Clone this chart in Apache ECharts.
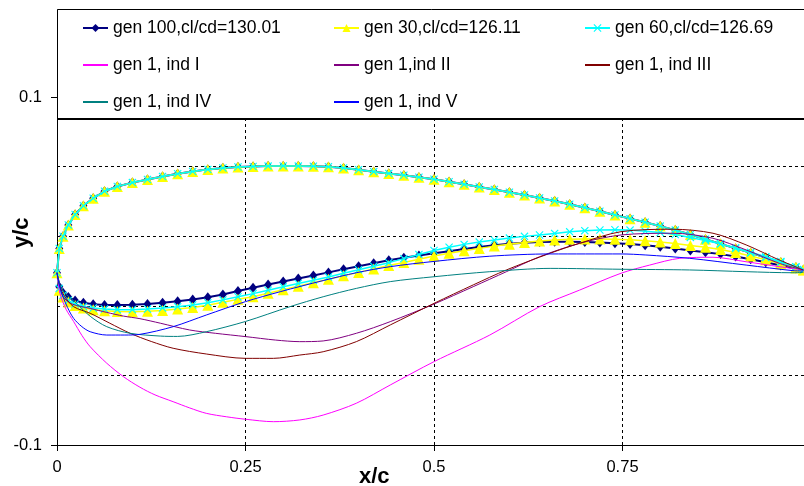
<!DOCTYPE html>
<html>
<head>
<meta charset="utf-8">
<script src="https://cdn.jsdelivr.net/npm/echarts@6/dist/echarts.min.js"></script>
<style>
  html, body { margin: 0; padding: 0; background: #fff; }
  #chart { width: 804px; height: 486px; }
</style>
</head>
<body>
<div id="chart"></div>
<script>
// x stations of the three best profiles (upper and lower surface)
var stations = [0, 0.003, 0.008, 0.015, 0.024, 0.035, 0.048, 0.063, 0.08, 0.1,
  0.12, 0.14, 0.16, 0.18, 0.2, 0.22, 0.24, 0.26, 0.28, 0.3, 0.32, 0.34, 0.36, 0.38, 0.4,
  0.42, 0.44, 0.46, 0.48, 0.5, 0.52, 0.54, 0.56, 0.58, 0.6, 0.62, 0.64, 0.66, 0.68, 0.7,
  0.72, 0.74, 0.76, 0.78, 0.8, 0.82, 0.84, 0.86, 0.88, 0.9, 0.92, 0.94, 0.96, 0.98, 0.99]

// upper surface (the three best designs overlap here)
var upperY = [-0.001, 0.013, 0.020, 0.0265, 0.0325, 0.0375, 0.0418, 0.0458, 0.0486, 0.0508,
  0.0526, 0.0543, 0.0559, 0.0572, 0.0584, 0.0592, 0.0598, 0.0601, 0.0603, 0.0604, 0.0603, 0.0602, 0.0599, 0.0592, 0.0582,
  0.0571, 0.0561, 0.055, 0.0539, 0.0527, 0.0513, 0.0498, 0.0483, 0.0468, 0.0453, 0.0437, 0.042, 0.0402, 0.0384, 0.0364,
  0.0343, 0.0322, 0.0301, 0.028, 0.0258, 0.0235, 0.021, 0.0183, 0.0156, 0.013, 0.0104, 0.0078, 0.0051, 0.0022, 0.0007]

var lowerGen100 = [-0.001, -0.009, -0.0125, -0.015, -0.017, -0.0183, -0.0191, -0.0195, -0.0196, -0.0194,
  -0.0189, -0.0182, -0.0174, -0.0164, -0.0151, -0.0135, -0.0115, -0.0096, -0.0078, -0.006, -0.0043, -0.0026, -0.0008, 0.001, 0.0027,
  0.0045, 0.0062, 0.0076, 0.0089, 0.0102, 0.0114, 0.0126, 0.0138, 0.0148, 0.0156, 0.0162, 0.0166, 0.0168, 0.0168, 0.0167,
  0.0164, 0.016, 0.0155, 0.0148, 0.0139, 0.0129, 0.0118, 0.0108, 0.0097, 0.0083, 0.0068, 0.005, 0.0032, 0.0014, 0.0006]

var lowerGen30 = [-0.001, -0.011, -0.015, -0.0178, -0.0198, -0.0212, -0.0222, -0.0229, -0.0233, -0.0234,
  -0.0232, -0.0227, -0.0219, -0.021, -0.0197, -0.018, -0.0163, -0.0148, -0.0128, -0.0108, -0.0088, -0.0067, -0.0047, -0.0028, -0.0008,
  0.0012, 0.0032, 0.0049, 0.0068, 0.0086, 0.0102, 0.0116, 0.013, 0.0143, 0.0154, 0.0164, 0.0172, 0.0178, 0.0182, 0.0184,
  0.0184, 0.0183, 0.0179, 0.0174, 0.0167, 0.0158, 0.0147, 0.0136, 0.0123, 0.0106, 0.0086, 0.0065, 0.0042, 0.0017, 0.0006]

var lowerGen60 = [-0.001, -0.010, -0.014, -0.017, -0.019, -0.0204, -0.0213, -0.0219, -0.0222, -0.0222,
  -0.0219, -0.0213, -0.0205, -0.0195, -0.0182, -0.0166, -0.0148, -0.013, -0.0111, -0.0091, -0.0072, -0.0053, -0.0034, -0.0013, 0.0007,
  0.0027, 0.0048, 0.0071, 0.0095, 0.0118, 0.0137, 0.0153, 0.0166, 0.0178, 0.0189, 0.0199, 0.0207, 0.0216, 0.0225, 0.0232,
  0.0236, 0.0237, 0.0235, 0.0229, 0.0221, 0.021, 0.0193, 0.0175, 0.0156, 0.0133, 0.0108, 0.0082, 0.0054, 0.0024, 0.0008]

// generation 1 individuals (lower surface)
var ind1X = [0, 0.004, 0.012, 0.022, 0.033, 0.044, 0.066, 0.088, 0.11, 0.13, 0.154, 0.176, 0.198, 0.225, 0.25, 0.287,
  0.322, 0.353, 0.397, 0.442, 0.5, 0.574, 0.64, 0.693, 0.748, 0.786, 0.826, 0.87, 0.914, 0.958, 0.99]
var ind1Y = [-0.001, -0.013, -0.022, -0.029, -0.037, -0.0435, -0.053, -0.0607, -0.0668, -0.0712, -0.0751, -0.0787, -0.0818, -0.0838, -0.0852, -0.0866,
  -0.0856, -0.0828, -0.076, -0.0655, -0.0521, -0.0368, -0.0205, -0.011, -0.0013, 0.0034, 0.0073, 0.0079, 0.0053, 0.0025, 0.0006]

var ind2X = [0, 0.004, 0.008, 0.02, 0.044, 0.066, 0.088, 0.11, 0.137, 0.176, 0.21, 0.25, 0.29, 0.322, 0.353, 0.397,
  0.442, 0.5, 0.552, 0.596, 0.64, 0.693, 0.748, 0.817, 0.87, 0.914, 0.958, 0.99]
var ind2Y = [-0.001, -0.009, -0.0148, -0.019, -0.0215, -0.0238, -0.0259, -0.0274, -0.030, -0.0339, -0.0358, -0.0377, -0.0397, -0.0406, -0.0402, -0.0358,
  -0.0291, -0.019, -0.009, -0.0004, 0.0082, 0.0159, 0.0207, 0.0217, 0.0188, 0.0121, 0.0044, 0.0006]

var ind3X = [0, 0.004, 0.01, 0.022, 0.044, 0.07, 0.097, 0.125, 0.154, 0.198, 0.25, 0.287, 0.322, 0.353, 0.397, 0.442,
  0.5, 0.552, 0.596, 0.654, 0.693, 0.748, 0.817, 0.87, 0.914, 0.958, 0.99]
var ind3Y = [-0.001, -0.009, -0.0145, -0.0205, -0.0243, -0.030, -0.0358, -0.0405, -0.0444, -0.0477, -0.0502, -0.0502, -0.0483, -0.0464, -0.0406, -0.031,
  -0.0186, -0.008, 0.0006, 0.0102, 0.0159, 0.0226, 0.024, 0.0217, 0.015, 0.0063, 0.0006]

var ind4X = [0, 0.004, 0.01, 0.022, 0.044, 0.066, 0.097, 0.137, 0.16, 0.198, 0.25, 0.309, 0.353, 0.397, 0.442, 0.5,
  0.574, 0.654, 0.748, 0.839, 0.914, 0.976, 0.99]
var ind4Y = [-0.001, -0.008, -0.0125, -0.017, -0.026, -0.032, -0.0358, -0.0374, -0.0376, -0.0349, -0.029, -0.0205, -0.0148, -0.010, -0.0061, -0.0033,
  -0.0004, 0.0015, 0.001, 0.0006, -0.0004, -0.001, -0.0008]

var ind5X = [0, 0.003, 0.008, 0.014, 0.022, 0.033, 0.044, 0.066, 0.09, 0.11, 0.154, 0.198, 0.25, 0.296, 0.353, 0.397,
  0.442, 0.5, 0.574, 0.654, 0.748, 0.781, 0.839, 0.914, 0.976, 0.99]
var ind5Y = [-0.001, -0.008, -0.0148, -0.021, -0.0272, -0.032, -0.0349, -0.0368, -0.0368, -0.0364, -0.032, -0.0253, -0.0176, -0.0119, -0.0055, -0.001,
  0.0025, 0.0055, 0.0085, 0.0098, 0.0098, 0.0092, 0.0073, 0.0034, 0.0002, 0.0]

var seriesNames = ['gen 100,cl/cd=130.01', 'gen 30,cl/cd=126.11', 'gen 60,cl/cd=126.69',
  'gen 1, ind I', 'gen 1,ind II', 'gen 1, ind III', 'gen 1, ind IV', 'gen 1, ind V']

// axis tick labels
var xTicks = [0, 0.25, 0.5, 0.75]
var yTicks = [-0.1, 0.1]

var FONT = 'Liberation Sans, Arial, sans-serif'

// trailing edge -> upper -> leading edge -> lower -> trailing edge
function profile(upper, lower) {
  var res = []
  for (var i = stations.length - 1; i >= 0; i--) res.push([stations[i], upper[i]])
  for (var j = 1; j < stations.length; j++) res.push([stations[j], lower[j]])
  return res
}
function pairs(xs, ys) {
  return xs.map(function(x, i) { return [x, ys[i]] })
}

var crossSymbol = 'path://M0,1L1,0L5,4L9,0L10,1L6,5L10,9L9,10L5,6L1,10L0,9L4,5Z'

var chart = echarts.init(document.getElementById('chart'))

function thinLine(name, color, xs, ys) {
  return {
    name: name,
    type: 'line',
    data: pairs(xs, ys),
    symbol: 'circle',
    showSymbol: false,
    smooth: 0.3,
    lineStyle: { color: color, width: 1 },
    itemStyle: { color: color },
    z: 5
  }
}
// legend entry without a marker (plain line)
function plain(name) {
  return { name: name, itemStyle: { opacity: 0 } }
}

var legendCommon = {
  orient: 'vertical',
  top: 19,
  padding: 0,
  itemWidth: 25,
  itemHeight: 10,
  itemGap: 19,
  selectedMode: false,
  textStyle: { fontFamily: FONT, fontSize: 17.5, color: '#000', lineHeight: 17.5 },
  z: 10
}

var dashed = { color: '#000', type: [3, 3], width: 1 }

var option = {
  animation: false,
  backgroundColor: '#fff',
  grid: { left: 57, right: -7, top: 10, bottom: 41, containLabel: false, outerBoundsMode: 'none' },
  legend: [
    Object.assign({ left: 82, data: [seriesNames[0], plain(seriesNames[3]), plain(seriesNames[6])] }, legendCommon),
    Object.assign({ left: 333, data: [seriesNames[1], plain(seriesNames[4]), plain(seriesNames[7])] }, legendCommon),
    Object.assign({ left: 584, data: [seriesNames[2], plain(seriesNames[5])] }, legendCommon)
  ],
  xAxis: {
    type: 'value',
    min: 0,
    max: 1,
    interval: 0.25,
    axisLine: { show: true, onZero: false, lineStyle: { color: '#000', width: 1 } },
    axisTick: { show: true, length: 6, lineStyle: { color: '#000' }, customValues: xTicks },
    axisLabel: { color: '#000', fontFamily: FONT, fontSize: 16.5, margin: 14, customValues: xTicks },
    splitLine: { show: true, lineStyle: dashed }
  },
  yAxis: [
    {
      type: 'value',
      min: -0.1,
      max: 0.15,
      interval: 0.04,
      axisLine: { show: true, onZero: false, lineStyle: { color: '#000', width: 1 } },
      axisTick: { show: true, length: 6, lineStyle: { color: '#000' }, customValues: yTicks },
      axisLabel: {
        color: '#000', fontFamily: FONT, fontSize: 16.5, margin: 15, customValues: yTicks,
        formatter: function(v) { return v.toFixed(1) }
      },
      splitLine: { show: false }
    },
    {
      // gridlines every 0.04 from -0.1
      type: 'value',
      position: 'left',
      min: -0.1,
      max: 0.15,
      interval: 0.04,
      axisLine: { show: false },
      axisTick: { show: false },
      axisLabel: { show: false },
      splitLine: { show: true, lineStyle: dashed }
    }
  ],
  graphic: [
    {
      type: 'rect', z: 3,
      shape: { x: 57.5, y: 9.5, width: 760, height: 110 },
      style: { fill: '#fff', stroke: '#000', lineWidth: 1 }
    },
    {
      type: 'line', z: 3,
      shape: { x1: 57, y1: 119, x2: 804, y2: 119 },
      style: { stroke: '#000', lineWidth: 2 }
    },
    {
      type: 'text', z: 3, left: 359, top: 466,
      style: { text: 'x/c', fontFamily: FONT, fontSize: 22, fontWeight: 'bold', fill: '#000' }
    },
    {
      type: 'text', z: 3, x: 11, y: 248, rotation: Math.PI / 2,
      style: { text: 'y/c', fontFamily: FONT, fontSize: 22, fontWeight: 'bold', fill: '#000' }
    }
  ],
  series: [
    {
      name: seriesNames[0],
      type: 'line',
      data: profile(upperY, lowerGen100),
      symbol: 'diamond',
      symbolSize: [8, 10],
      lineStyle: { color: '#000080', width: 2 },
      itemStyle: { color: '#000080' },
      z: 2
    },
    {
      name: seriesNames[1],
      type: 'line',
      data: profile(upperY, lowerGen30),
      symbol: 'triangle',
      symbolSize: 11,
      lineStyle: { color: '#FFFF00', width: 1.5 },
      itemStyle: { color: '#FFFF00' },
      z: 3
    },
    {
      name: seriesNames[2],
      type: 'line',
      data: profile(upperY, lowerGen60),
      symbol: crossSymbol,
      symbolSize: 8,
      lineStyle: { color: '#00FFFF', width: 1.5 },
      itemStyle: { color: '#00FFFF' },
      z: 4
    },
    thinLine(seriesNames[3], '#FF00FF', ind1X, ind1Y),
    thinLine(seriesNames[4], '#800080', ind2X, ind2Y),
    thinLine(seriesNames[5], '#800000', ind3X, ind3Y),
    thinLine(seriesNames[6], '#008080', ind4X, ind4Y),
    thinLine(seriesNames[7], '#0000FF', ind5X, ind5Y)
  ]
}

chart.setOption(option)
</script>
</body>
</html>
